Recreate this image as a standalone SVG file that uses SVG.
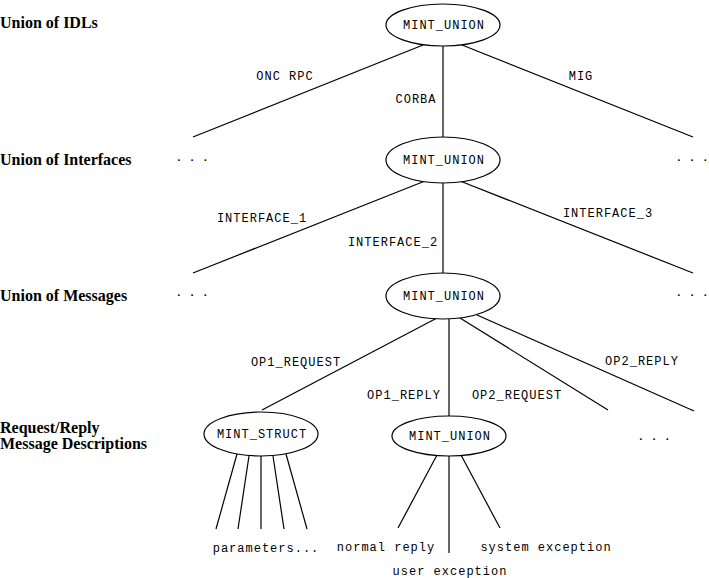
<svg xmlns="http://www.w3.org/2000/svg" width="709" height="578" viewBox="0 0 709 578">
<style>
.n ellipse{fill:#fff;stroke:#000;stroke-width:1.2}
.m{font-family:"Liberation Mono",monospace;font-size:12px;letter-spacing:1px;fill:#000}
.d{font-family:"Liberation Mono",monospace;font-size:11px;font-weight:bold;fill:#000}
.c{text-anchor:middle}
.h{font-family:"Liberation Serif",serif;font-size:16px;font-weight:bold;fill:#000}
#edges line{stroke:#000;stroke-width:1.2}
</style>
<rect width="709" height="578" fill="#fff"/>
<g id="levels">
<text class="h" x="0" y="28">Union of IDLs</text>
<text class="h" x="0" y="165">Union of Interfaces</text>
<text class="h" x="0" y="301">Union of Messages</text>
<text class="h" x="0" y="433">Request/Reply</text>
<text class="h" x="0" y="449">Message Descriptions</text>
</g>
<g id="edges">
<line x1="423" y1="45" x2="193" y2="137"/>
<line x1="443" y1="46" x2="443" y2="137"/>
<line x1="462" y1="45" x2="693" y2="137"/>
<line x1="425" y1="181" x2="193" y2="273"/>
<line x1="443" y1="183" x2="443" y2="273"/>
<line x1="460" y1="181" x2="693" y2="273"/>
<line x1="437" y1="318" x2="262" y2="410"/>
<line x1="449" y1="319" x2="449" y2="416"/>
<line x1="460" y1="318" x2="608" y2="410"/>
<line x1="477" y1="315" x2="694" y2="411"/>
<line x1="237" y1="454" x2="216" y2="529"/>
<line x1="249" y1="456" x2="238" y2="529"/>
<line x1="261" y1="456" x2="261" y2="529"/>
<line x1="273" y1="456" x2="284" y2="529"/>
<line x1="286" y1="454" x2="307" y2="529"/>
<line x1="437" y1="455" x2="398" y2="528"/>
<line x1="449" y1="456" x2="449" y2="553"/>
<line x1="461" y1="455" x2="500" y2="528"/>
</g>
<g id="edge-labels">
<text class="m c" x="285" y="80">ONC RPC</text>
<text class="m c" x="416" y="103">CORBA</text>
<text class="m c" x="581" y="80">MIG</text>
<text class="m c" x="262" y="222">INTERFACE_1</text>
<text class="m c" x="393" y="246">INTERFACE_2</text>
<text class="m c" x="608" y="217">INTERFACE_3</text>
<text class="m c" x="296" y="366">OP1_REQUEST</text>
<text class="m c" x="642" y="365">OP2_REPLY</text>
<text class="m c" x="404" y="399">OP1_REPLY</text>
<text class="m c" x="517" y="399">OP2_REQUEST</text>
</g>
<g id="n1" class="n"><ellipse cx="443" cy="25" rx="57" ry="21"/><text class="m c" x="444" y="29">MINT_UNION</text></g>
<g id="n2" class="n"><ellipse cx="443" cy="160" rx="57" ry="23"/><text class="m c" x="444" y="164">MINT_UNION</text></g>
<g id="n3" class="n"><ellipse cx="443" cy="296" rx="57" ry="23"/><text class="m c" x="444" y="300">MINT_UNION</text></g>
<g id="n4" class="n"><ellipse cx="261" cy="434" rx="57" ry="22"/><text class="m c" x="262" y="438">MINT_STRUCT</text></g>
<g id="n5" class="n"><ellipse cx="449" cy="436" rx="57" ry="20"/><text class="m c" x="450" y="440">MINT_UNION</text></g>
<g id="dots">
<text class="d" x="175.5" y="161">. . .</text>
<text class="d" x="675.5" y="161">. . .</text>
<text class="d" x="175.5" y="296">. . .</text>
<text class="d" x="675.5" y="296">. . .</text>
<text class="d" x="637.5" y="440">. . .</text>
</g>
<g id="leaves">
<text class="m c" x="266" y="552">parameters...</text>
<text class="m c" x="386" y="551">normal reply</text>
<text class="m c" x="546" y="551">system exception</text>
<text class="m c" x="450" y="575">user exception</text>
</g>
</svg>
